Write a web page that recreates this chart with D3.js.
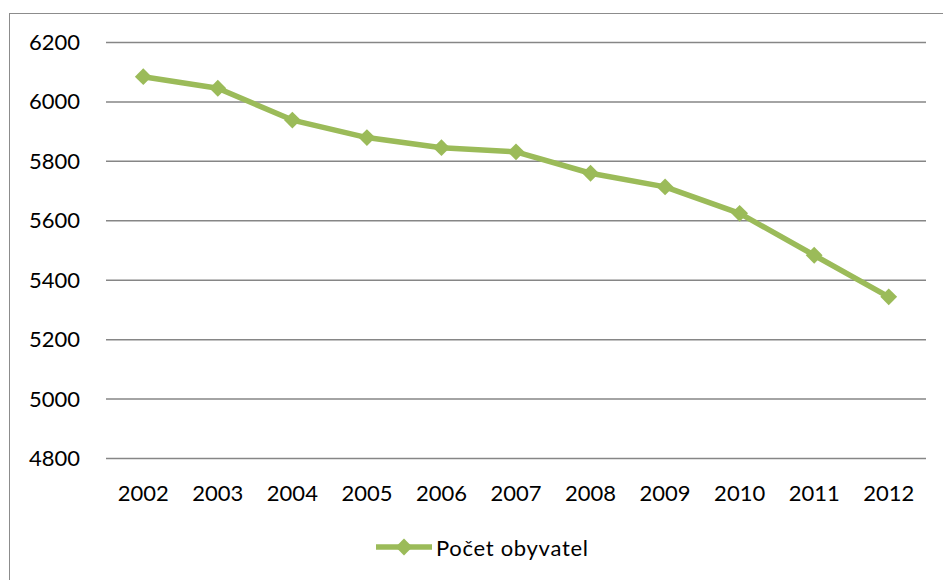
<!DOCTYPE html>
<html>
<head>
<meta charset="utf-8">
<script src="https://cdn.jsdelivr.net/npm/d3@7"></script>
<style>
  body { margin: 0; background: #fff; }
  svg { display: block; font-family: Lato, "Open Sans", sans-serif; }
</style>
</head>
<body>
<div id="content"></div>
<script>
var years = ["2002", "2003", "2004", "2005", "2006", "2007", "2008", "2009", "2010", "2011", "2012"];
var population = [6085, 6046, 5939, 5880, 5846, 5832, 5760, 5714, 5625, 5484, 5344];
var yTicks = [4800, 5000, 5200, 5400, 5600, 5800, 6000, 6200];
var seriesName = "Počet obyvatel";

var data = years.map(function(y, i) { return { year: y, value: population[i] }; });

var width = 943, height = 580;
var margin = { top: 42.5, right: 17, bottom: 121.5, left: 106 };
var innerW = width - margin.left - margin.right,
    innerH = height - margin.top - margin.bottom;

var green = "#9bbb59";

var svg = d3.select("div#content").append("svg")
  .attr("width", width)
  .attr("height", height);

// outer chart border
svg.append("rect")
  .attr("x", 9.5).attr("y", 13.5)
  .attr("width", 960).attr("height", 600)
  .attr("fill", "none")
  .attr("stroke", "#8c8c8c")
  .attr("stroke-width", 1);

var g = svg.append("g")
  .attr("transform", "translate(" + margin.left + "," + margin.top + ")");

var x = d3.scaleBand().domain(years).range([0, innerW]);
var y = d3.scaleLinear().domain([4800, 6200]).range([innerH, 0]);

// gridlines
g.append("g")
  .selectAll("line")
  .data(yTicks)
  .enter().append("line")
  .attr("x1", 0).attr("x2", innerW)
  .attr("y1", function(d) { return y(d); })
  .attr("y2", function(d) { return y(d); })
  .attr("stroke", "#868686")
  .attr("stroke-width", 1.5);

// y axis labels
var yAxis = g.append("g")
  .call(d3.axisLeft(y).tickValues(yTicks).tickSize(0).tickPadding(26).tickFormat(d3.format("d")));
yAxis.select(".domain").remove();
yAxis.selectAll("text")
  .attr("font-size", 22)
  .attr("font-family", "Lato, 'Open Sans', sans-serif")
  .attr("fill", "#000");

// x axis labels
var xAxis = g.append("g")
  .attr("transform", "translate(0," + innerH + ")")
  .call(d3.axisBottom(x).tickSize(0).tickPadding(27));
xAxis.select(".domain").remove();
xAxis.selectAll("text")
  .attr("font-size", 22)
  .attr("font-family", "Lato, 'Open Sans', sans-serif")
  .attr("fill", "#000");

var cx = function(d) { return x(d.year) + x.bandwidth() / 2; };

var valueline = d3.line()
  .x(cx)
  .y(function(d) { return y(d.value); });

g.append("path")
  .datum(data)
  .attr("d", valueline)
  .attr("fill", "none")
  .attr("stroke", green)
  .attr("stroke-width", 5.5)
  .attr("stroke-linejoin", "round");

var diamond = d3.symbol().type(d3.symbolDiamond2).size(180);

g.selectAll(".marker")
  .data(data)
  .enter().append("path")
  .attr("class", "marker")
  .attr("d", diamond)
  .attr("transform", function(d) { return "translate(" + cx(d) + "," + y(d.value) + ")"; })
  .attr("fill", green);

// legend
var legend = svg.append("g").attr("transform", "translate(376,547)");
legend.append("line")
  .attr("x1", 0).attr("x2", 56)
  .attr("y1", 0).attr("y2", 0)
  .attr("stroke", green)
  .attr("stroke-width", 5.5);
legend.append("path")
  .attr("d", diamond)
  .attr("transform", "translate(28,0)")
  .attr("fill", green);
legend.append("text")
  .attr("x", 60).attr("y", 9)
  .attr("font-size", 22)
  .attr("letter-spacing", 0.7)
  .attr("fill", "#000")
  .text(seriesName);
</script>
</body>
</html>
